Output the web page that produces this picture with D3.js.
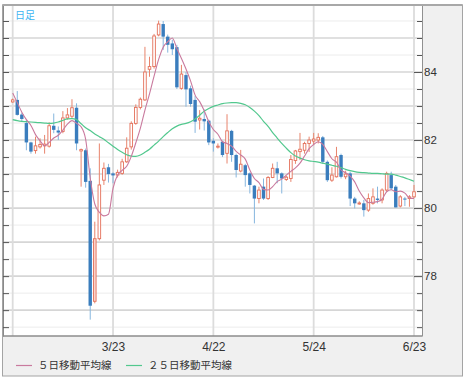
<!DOCTYPE html>
<html><head><meta charset="utf-8">
<script src="https://cdn.jsdelivr.net/npm/d3@7"></script>
<style>html,body{margin:0;padding:0;background:#fff;} svg{display:block}</style>
</head><body><svg id="c" width="465" height="380"></svg>
<script>
// ---- data (USD/JPY daily) ----
const opens = [83.12,83.18,82.75,82.5,81.93,81.69,81.8,81.83,81.82,82.42,
 82.28,82.25,82.65,82.7,82.95,81.68,81.7,80.8,77.26,79.1,
 80.82,81.2,81.02,80.97,81.02,81.36,81.8,82.49,82.96,83.18,
 84.08,84.16,85.09,85.41,85.04,84.84,84.73,83.52,83.91,83.52,
 83.18,82.59,82.62,82.57,81.98,81.8,81.95,81.61,82.27,81.56,
 81.09,81.26,81.02,80.66,80.28,80.63,80.28,80.9,81.17,81.02,
 80.84,80.87,81.4,81.66,81.7,81.9,81.97,82.0,82.08,81.36,
 80.82,80.92,81.56,80.92,81.02,80.28,80.14,80.14,79.94,80.14,
 80.28,80.24,80.53,80.97,80.63,80.06,80.28,80.28,80.33];
const highs = [83.22,83.44,82.8,82.6,81.95,82.1,82.05,82.15,82.52,82.78,
 82.4,82.85,82.94,83.2,83.08,81.75,81.75,81.17,79.6,81.9,
 81.34,81.3,81.05,81.13,81.45,82.08,82.55,83.05,83.25,84.74,
 84.45,85.12,85.51,85.5,85.1,84.95,84.8,84.21,84.0,83.6,
 83.3,82.88,82.9,82.6,82.05,81.9,81.98,82.76,82.3,81.6,
 81.71,81.3,81.05,80.68,80.63,80.87,80.94,81.31,81.36,81.05,
 80.95,81.56,81.71,82.21,81.95,82.1,82.21,82.2,82.12,81.4,
 81.2,81.8,81.6,81.1,81.07,80.33,80.2,80.24,80.43,80.58,
 80.63,80.58,81.07,81.07,80.68,80.38,80.33,80.38,80.68];
const lows = [83.1,82.72,82.55,81.7,81.6,81.6,81.75,81.6,81.78,82.2,
 82.0,82.2,82.6,82.65,81.7,80.63,80.6,76.72,77.2,79.05,
 80.68,80.75,80.73,80.9,80.98,81.33,81.72,82.45,82.9,83.15,
 83.86,84.1,85.05,84.65,84.57,84.5,83.5,83.48,82.98,82.98,
 82.21,82.31,82.28,81.85,81.66,81.75,81.5,81.31,81.36,80.9,
 81.05,80.63,80.43,79.55,80.14,80.24,80.24,80.88,80.73,80.43,
 80.8,80.77,81.3,81.41,81.6,81.65,81.85,81.9,81.3,80.77,
 80.77,80.9,80.87,80.85,80.06,79.99,80.1,79.75,79.89,80.1,
 80.14,80.14,80.48,80.53,80.02,80.02,80.06,80.04,80.3];
const closes = [83.18,82.74,82.62,81.93,81.66,81.83,81.87,81.88,82.42,82.3,
 82.22,82.65,82.74,82.95,81.9,81.72,80.77,77.13,79.1,80.68,
 81.17,81.0,80.96,81.05,81.36,81.76,82.49,82.96,83.2,84.0,
 84.16,85.06,85.41,85.04,84.8,84.67,83.55,83.94,83.49,83.06,
 82.54,82.64,82.55,81.93,81.9,81.82,81.56,82.27,81.56,81.12,
 81.29,80.97,80.68,80.28,80.53,80.28,80.9,81.17,81.02,80.87,
 80.91,81.43,81.68,81.73,81.9,82.0,82.03,82.08,81.36,80.82,
 80.97,81.51,80.92,81.0,80.28,80.14,80.15,79.94,80.28,80.33,
 80.24,80.53,81.02,80.58,80.02,80.33,80.26,80.33,80.48];
const ma5 = [83.38,83.1,82.82,82.6,82.43,82.16,81.98,81.83,81.93,82.06,
 82.14,82.29,82.47,82.57,82.49,82.39,82.02,80.89,80.12,79.88,
 79.77,79.82,80.58,80.97,81.11,81.23,81.52,81.92,82.35,82.88,
 83.36,83.88,84.37,84.73,84.89,85.0,84.69,84.4,84.09,83.74,
 83.32,83.13,82.86,82.54,82.31,82.17,81.95,81.9,81.82,81.67,
 81.56,81.44,81.12,80.87,80.75,80.55,80.53,80.63,80.78,80.85,
 80.97,81.08,81.18,81.32,81.53,81.75,81.87,81.95,81.87,81.66,
 81.45,81.35,81.12,81.04,80.94,80.77,80.5,80.3,80.16,80.17,
 80.19,80.26,80.48,80.54,80.48,80.5,80.44,80.3,80.28];
const ma25 = [82.6,82.57,82.55,82.54,82.53,82.52,82.51,82.5,82.49,82.5,
 82.53,82.58,82.62,82.63,82.6,82.48,82.36,82.28,82.18,82.1,
 82.02,81.92,81.82,81.72,81.64,81.57,81.53,81.52,81.56,81.64,
 81.73,81.85,81.97,82.1,82.22,82.33,82.41,82.46,82.49,82.54,
 82.62,82.73,82.85,82.93,82.99,83.03,83.07,83.09,83.1,83.1,
 83.08,83.04,82.96,82.85,82.72,82.55,82.4,82.22,82.06,81.9,
 81.76,81.63,81.53,81.47,81.42,81.39,81.37,81.35,81.32,81.29,
 81.26,81.23,81.19,81.14,81.1,81.07,81.05,81.04,81.03,81.02,
 81.02,81.01,81.0,81.0,80.97,80.93,80.89,80.84,80.79];
const gridDates = ["2/21","3/23","4/22","5/24","6/23"];
const labelDates = ["3/23","4/22","5/24","6/23"];
const yLabelTicks = [78,80,82,84];
const seriesNames = ["５日移動平均線","２５日移動平均線"];
const titleText = "日足";
const highlightIndex = 18;

// trading-day categories (weekdays from 2011-02-21)
const dates = [];
{ const d = new Date(2011,1,21);
  while (dates.length < closes.length) {
    const w = d.getDay();
    if (w !== 0 && w !== 6) dates.push((d.getMonth()+1) + "/" + d.getDate());
    d.setDate(d.getDate()+1);
  } }

const svg = d3.select("#c");
const P = {l:3, r:422, t:5, b:336};
const x = d3.scalePoint().domain(dates).range([12.7, 414]);
const y = d3.scaleLinear().domain([76.24, 85.97]).range([P.b, P.t]);

// outer frame
svg.append("rect").attr("x",2.5).attr("y",5).attr("width",460).attr("height",371)
  .attr("fill","#f0f0f0").attr("stroke","#a4a4a4").attr("stroke-width",1);
// plot area
svg.append("rect").attr("x",P.l).attr("y",P.t).attr("width",P.r-P.l).attr("height",P.b-P.t).attr("fill","#fff");

svg.append("defs").append("clipPath").attr("id","clip")
  .append("rect").attr("x",P.l).attr("y",P.t).attr("width",P.r-P.l).attr("height",P.b-P.t);

// horizontal grid
const halfVals = d3.range(76.5, 86, 0.5);
svg.append("g").selectAll("line").data(halfVals).join("line")
  .attr("x1",P.l).attr("x2",P.r)
  .attr("y1",d=>y(d)).attr("y2",d=>y(d))
  .attr("stroke",d=>Number.isInteger(d)?"#d6d6d6":"#ececec")
  .attr("stroke-width",d=>Number.isInteger(d)?1.6:1);
// vertical grid
svg.append("g").selectAll("line").data(gridDates).join("line")
  .attr("x1",d=>x(d)).attr("x2",d=>x(d)).attr("y1",P.t).attr("y2",P.b)
  .attr("stroke","#dcdcdc").attr("stroke-width",1.8);

// left ticks (inward)
const gl = svg.append("g").attr("transform",`translate(${P.l},0)`)
  .call(d3.axisLeft(y).tickValues(halfVals).tickSizeInner(-6).tickSizeOuter(0).tickFormat(""));
gl.select(".domain").attr("stroke","#8a8a8a");
gl.selectAll(".tick line").attr("stroke","#555");

// right axis with labels
const gr = svg.append("g").attr("transform",`translate(${P.r},0)`)
  .call(d3.axisRight(y).tickValues(halfVals).tickSizeInner(-5).tickSizeOuter(0).tickPadding(2)
    .tickFormat(d=>yLabelTicks.includes(d)?String(d):""));
gr.select(".domain").attr("stroke","#909090");
gr.selectAll(".tick line").attr("stroke","#555");
gr.selectAll(".tick line").filter(d=>yLabelTicks.includes(d)).attr("x2",-8);
gr.selectAll("text").attr("font-family","'Liberation Sans', Arial, sans-serif").attr("font-size","11.5px").attr("fill","#333");

// bottom axis labels
const gb = svg.append("g").attr("transform",`translate(0,${P.b})`)
  .call(d3.axisBottom(x).tickValues(labelDates).tickSize(0).tickPadding(6));
gb.select(".domain").remove();
gb.selectAll("text").attr("font-family","'Liberation Sans', Arial, sans-serif").attr("font-size","12px").attr("fill","#333");
svg.append("line").attr("x1",P.l).attr("x2",P.r).attr("y1",P.b).attr("y2",P.b)
  .attr("stroke","#8c8c8c").attr("stroke-width",1.5);

// candles
const plot = svg.append("g").attr("clip-path","url(#clip)");
const idx = d3.range(closes.length);
const bw = 3.4;
const cg = plot.append("g").selectAll("g").data(idx).join("g");
cg.append("line")
  .attr("x1",i=>x(dates[i])).attr("x2",i=>x(dates[i]))
  .attr("y1",i=>y(highs[i])).attr("y2",i=>y(lows[i]))
  .attr("stroke",i=>closes[i]>=opens[i]?"#e8846c":"#86b6de").attr("stroke-width",1);
cg.append("rect")
  .attr("x",i=>x(dates[i]) - (closes[i]>=opens[i]? (bw-0.8)/2 : bw/2))
  .attr("width",i=>closes[i]>=opens[i]? bw-0.8 : bw)
  .attr("y",i=>y(Math.max(opens[i],closes[i])))
  .attr("height",i=>Math.max(1, y(Math.min(opens[i],closes[i])) - y(Math.max(opens[i],closes[i]))))
  .attr("fill",i=>closes[i]>=opens[i]? (i===highlightIndex?"#f9d4cb":"#fff") : "#3a7dbd")
  .attr("stroke",i=>closes[i]>=opens[i]?"#e4705a":"none").attr("stroke-width",0.9);

// moving averages
const line = arr => d3.line().x((d,i)=>x(dates[i])).y(d=>y(d)).curve(d3.curveMonotoneX)(arr);
plot.append("path").attr("d",line(ma25)).attr("fill","none").attr("stroke","#52c88e").attr("stroke-width",1.2);
plot.append("path").attr("d",line(ma5)).attr("fill","none").attr("stroke","#c97a9e").attr("stroke-width",1.1);

// title label
svg.append("text").attr("x",15).attr("y",18.5).text(titleText)
  .attr("font-family","'Noto Sans CJK JP', sans-serif").attr("font-size","10px").attr("fill","#3db4f2");

// legend
const legendColors = ["#c97a9e","#52c88e"];
const legendX = [16,126];
seriesNames.forEach((name,k)=>{
  svg.append("line").attr("x1",legendX[k]).attr("x2",legendX[k]+16).attr("y1",365.5).attr("y2",365.5)
    .attr("stroke",legendColors[k]).attr("stroke-width",1.2);
  svg.append("text").attr("x",legendX[k]+22).attr("y",369.3).text(name)
    .attr("font-family","'Noto Sans CJK JP', sans-serif").attr("font-size","10.5px").attr("fill","#333");
});
// top frame line
svg.append("line").attr("x1",2.5).attr("x2",462.5).attr("y1",5).attr("y2",5).attr("stroke","#a8a8a8").attr("stroke-width",2);
</script></body></html>
